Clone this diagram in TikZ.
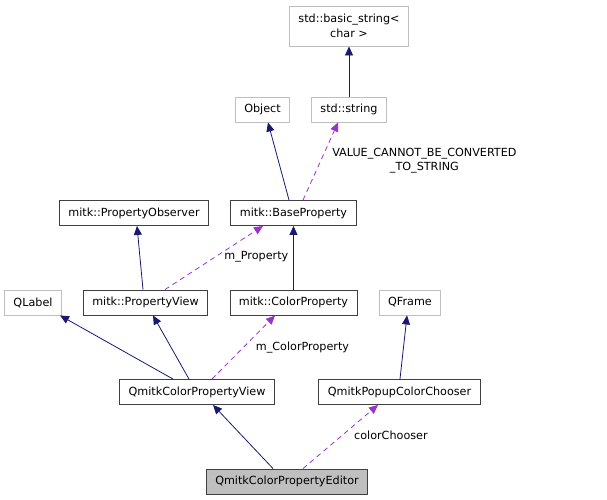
\documentclass[tikz,border=0pt]{standalone}
\usepackage{fontspec}
\setmainfont{DejaVu Sans}
\usetikzlibrary{arrows.meta}
\definecolor{inhblue}{HTML}{191970}
\definecolor{usepurple}{HTML}{9A32CD}
\definecolor{boxgray}{HTML}{BFBFBF}
\definecolor{boxdark}{HTML}{404040}

\begin{document}
\begin{tikzpicture}[x=1pt,y=1pt,>={Triangle[length=9pt,width=8pt]},node distance=89.5pt,
  class node/.style={draw=boxdark,fill=white,line width=0.9pt,minimum height=25pt,inner xsep=9pt,font=\fontsize{11.2}{15}\selectfont},
  ext node/.style={class node,draw=boxgray},
  main node/.style={class node,fill=boxgray},
  inherit/.style={->,draw=inhblue,line width=0.8pt},
  member/.style={->,draw=usepurple,line width=0.8pt,dash pattern=on 5pt off 4pt},
  edge label/.style={font=\fontsize{11.2}{14}\selectfont,text=black,align=center,inner sep=1pt,anchor=west}]

  \useasboundingbox (0,0) rectangle (607,-500);

  \node[main node] (editor) at (287,-481.5) {QmitkColorPropertyEditor};
  \node[class node] (colorview) [above of=editor, xshift=-90pt] {QmitkColorPropertyView};
  \node[class node] (chooser) [above of=editor, xshift=112.5pt] {QmitkPopupColorChooser};
  \node[ext node] (qlabel) [above of=colorview, xshift=-164pt] {QLabel};
  \node[class node] (propview) [above of=colorview, xshift=-51.5pt] {mitk::PropertyView};
  \node[class node] (colorprop) [above of=colorview, xshift=96.5pt] {mitk::ColorProperty};
  \node[ext node] (qframe) [above of=chooser, xshift=10.5pt] {QFrame};
  \node[class node] (observer) [above of=propview, xshift=-11.5pt] {mitk::PropertyObserver};
  \node[class node] (baseprop) [above of=colorprop] {mitk::BaseProperty};
  \node[ext node] (object) [above of=baseprop, yshift=14pt, xshift=-31pt] {Object};
  \node[ext node] (string) [above of=baseprop, yshift=14pt, xshift=55.5pt] {std::string};
  \node[ext node, align=center, minimum height=40pt] (basicstr) [above of=string, yshift=-6pt] {std::basic\_string\textless\\char \textgreater};

  % inheritance
  \path
    (string) edge[inherit] (basicstr)
    ([xshift=-4.5pt]baseprop.north) edge[inherit] ([xshift=5.5pt]object.south)
    ([xshift=-2.5pt]propview.north) edge[inherit] ([xshift=3pt]observer.south)
    (colorprop) edge[inherit] (baseprop)
    ([xshift=-24pt]colorview.north) edge[inherit] ([xshift=27pt]qlabel.south)
    ([xshift=-8pt]colorview.north) edge[inherit] ([xshift=7.5pt]propview.south)
    ([xshift=0.5pt]chooser.north) edge[inherit] ([xshift=-3pt]qframe.south)
    ([xshift=-14pt]editor.north) edge[inherit] ([xshift=16pt]colorview.south);

  % members
  \path
    ([xshift=9.5pt]baseprop.north) edge[member] node[edge label, pos=0.51, xshift=10pt] {VALUE\_CANNOT\_BE\_CONVERTED\\\_TO\_STRING} ([xshift=-11pt]string.south)
    ([xshift=19.5pt]propview.north) edge[member] node[edge label, pos=0.52, xshift=7pt] {m\_Property} ([xshift=-30.5pt]baseprop.south)
    ([xshift=15pt]colorview.north) edge[member] node[edge label, pos=0.5, xshift=11pt] {m\_ColorProperty} ([xshift=-18.5pt]colorprop.south)
    ([xshift=16pt]editor.north) edge[member] node[edge label, pos=0.53, xshift=10pt] {colorChooser} ([xshift=-21.5pt]chooser.south);
\end{tikzpicture}
\end{document}
